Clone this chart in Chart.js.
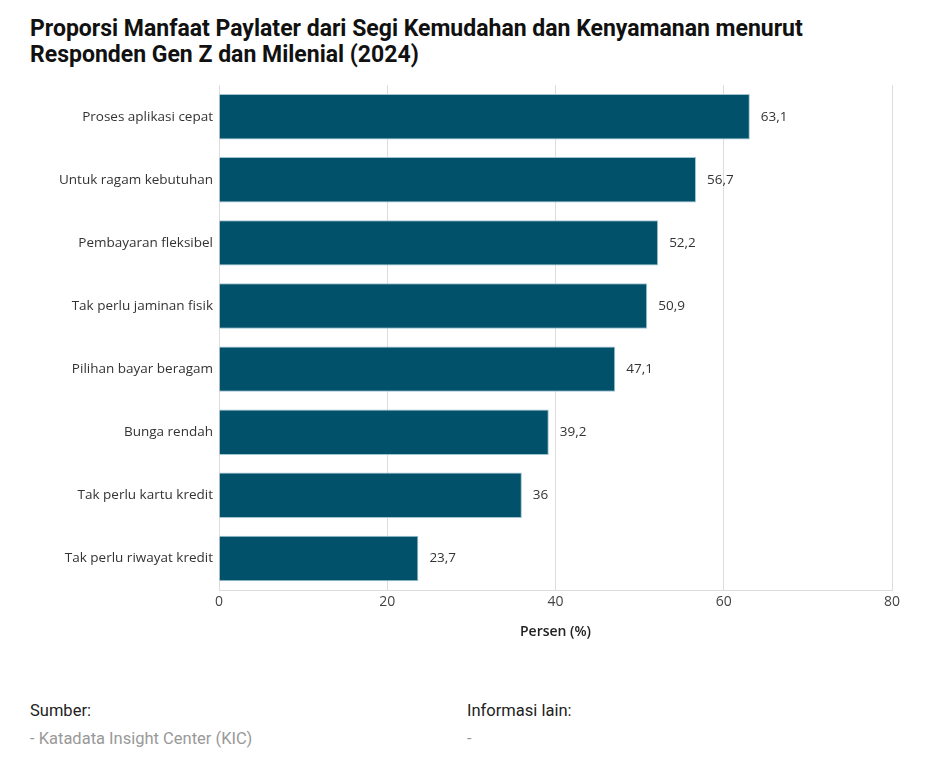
<!DOCTYPE html>
<html>
<head>
<meta charset="utf-8">
<script src="https://cdn.jsdelivr.net/npm/chart.js@4.4.1/dist/chart.umd.min.js"></script>
<style>
  body { margin: 0; background: #fff; width: 929px; height: 763px; overflow: hidden; position: relative; }
  #title { position: absolute; left: 30px; top: 16px; width: 850px; font-family: Roboto, sans-serif; font-weight: bold; font-size: 23px; line-height: 26px; color: #111; }
  #wrap { position: absolute; left: 0; top: 71px; width: 929px; height: 573px; }
  .foot { position: absolute; font-family: Roboto, sans-serif; font-size: 16.5px; }
  .head { color: #222; }
  .sub { color: #999; }
</style>
</head>
<body>
<div id="title">Proporsi Manfaat Paylater dari Segi Kemudahan dan Kenyamanan menurut Responden Gen Z dan Milenial (2024)</div>
<div id="wrap"><canvas id="myBar"></canvas></div>
<div class="foot head" style="left:30px;top:701px;">Sumber:</div>
<div class="foot sub" style="left:30px;top:729px;">- Katadata Insight Center (KIC)</div>
<div class="foot head" style="left:467px;top:701px;">Informasi lain:</div>
<div class="foot sub" style="left:467px;top:729px;">-</div>
<script>
var categories = [
  "Proses aplikasi cepat",
  "Untuk ragam kebutuhan",
  "Pembayaran fleksibel",
  "Tak perlu jaminan fisik",
  "Pilihan bayar beragam",
  "Bunga rendah",
  "Tak perlu kartu kredit",
  "Tak perlu riwayat kredit"
];
var values = [63.1, 56.7, 52.2, 50.9, 47.1, 39.2, 36, 23.7];
var xTicks = [0, 20, 40, 60, 80];

var chartFont = "'Open Sans', 'Noto Sans', sans-serif";

// value labels at the end of each bar, comma decimal
var valueLabels = {
  id: "valueLabels",
  afterDatasetsDraw: function (chart) {
    var ctx = chart.ctx;
    var meta = chart.getDatasetMeta(0);
    ctx.save();
    ctx.font = "13.5px " + chartFont;
    ctx.fillStyle = "#333";
    ctx.textAlign = "left";
    ctx.textBaseline = "middle";
    meta.data.forEach(function (bar, i) {
      var txt = String(values[i]).replace(".", ",");
      ctx.fillText(txt, bar.x + 11, bar.y);
    });
    ctx.restore();
  }
};

var bar = document.getElementById("myBar").getContext("2d");

var myBar = new Chart(bar, {
  type: "bar",
  data: {
    labels: categories,
    datasets: [{
      data: values,
      backgroundColor: "#01516b",
      borderColor: "#9fc3cf",
      borderWidth: 1,
      barPercentage: 0.8,
      categoryPercentage: 0.9
    }]
  },
  options: {
    indexAxis: "y",
    responsive: true,
    maintainAspectRatio: false,
    animation: false,
    layout: { padding: { top: 5, right: 37, left: 0, bottom: 0 } },
    plugins: {
      legend: { display: false },
      tooltip: { enabled: false }
    },
    scales: {
      x: {
        min: 0,
        max: 80,
        afterBuildTicks: function (scale) {
          scale.ticks = xTicks.map(function (v) { return { value: v }; });
        },
        afterFit: function (scale) { scale.height = 54; },
        grid: { color: "#dddddd", drawTicks: false },
        border: { color: "#dddddd" },
        ticks: { color: "#444", font: { family: chartFont, size: 14 }, padding: 4 },
        title: {
          display: true,
          text: "Persen (%)",
          color: "#222",
          font: { family: chartFont, size: 14, weight: "600" },
          padding: { top: 3 }
        }
      },
      y: {
        afterFit: function (scale) { scale.width = 219; },
        grid: { display: false, drawTicks: false },
        border: { display: false },
        ticks: { color: "#333", font: { family: chartFont, size: 13.5 }, padding: 6 }
      }
    }
  },
  plugins: [valueLabels]
});
</script>
</body>
</html>
